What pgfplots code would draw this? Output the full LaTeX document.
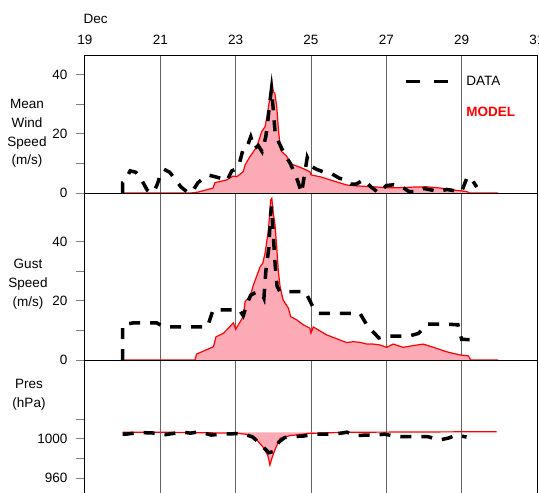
\documentclass[border=0pt]{standalone}
\usepackage{fontspec}
\setmainfont{Liberation Sans}
\usepackage{pgfplots}
\pgfplotsset{compat=1.18}
\definecolor{modelred}{RGB}{255,0,0}
\definecolor{modelfill}{RGB}{252,170,182}
\definecolor{gridgray}{RGB}{100,100,100}
\newcommand{\lbl}{\fontsize{13.5}{18.8}\selectfont}

\pgfplotsset{
  panel/.style={
    scale only axis, width=452pt, xmin=19, xmax=31,
    xtick={19,21,...,31}, xmajorgrids,
    grid style={gridgray, line width=1pt},
    axis line style={line width=1pt},
    xtick style={draw=none},
    ytick style={line width=1pt},
    ytick pos=left, tick align=outside, major tick length=9pt,
    tick label style={font=\lbl},
    yticklabel style={xshift=-5pt},
    /pgf/number format/assume math mode=true,
    anchor=north west,
  },
  model/.style={draw=modelred, line width=1.2pt, fill=modelfill},
  data/.style={black, line width=3.5pt, dash pattern=on 11pt off 10pt},
}

\begin{document}
\begin{tikzpicture}[font=\lbl]
\useasboundingbox (0,0) rectangle (539pt,-493pt);

% mean wind speed
\begin{axis}[panel, at={(85pt,-55pt)}, height=138pt,
  ymin=0, ymax=46.6, ytick={0,10,20,30,40}, yticklabels={0,,20,,40},
  xticklabel pos=top, xticklabels={19,21,23,25,27,29,31},
  xticklabel style={yshift=-2.5pt},
  legend style={draw=none, fill=none, at={(axis description cs:0.706,0.85)},
    anchor=north west, inner sep=0pt, row sep=20pt, font=\lbl,
    nodes={inner sep=0pt, anchor=base west}},
]
\addlegendimage{legend image code/.code={
  \draw[black, line width=3.5pt, dash pattern=on 14pt off 14pt] (0pt,3.5pt) -- (42pt,3.5pt);
  \path (60pt,0pt);}}
\addlegendentry{DATA}
\addlegendimage{empty legend}
\addlegendentry{\textcolor{modelred}{\textbf{MODEL}}}
\addplot[model, forget plot] coordinates {
(20.0,0)(21.8,0)(22.0,0.3)(22.4,1.7)(22.45,3.5)(22.76,4.4)(22.93,5.7)(23.03,5.5)
(23.2,7.2)(23.25,9.5)(23.38,12.3)(23.56,15.6)(23.69,20.7)(23.78,22.4)(23.84,26.4)
(23.9,31.4)(23.96,37.9)(24.0,34.2)(24.04,33.7)(24.09,29.2)(24.13,22.4)(24.18,15.6)
(24.22,14)(24.35,12.5)(24.46,10)(24.53,9.5)(24.71,8.7)(24.97,7.2)(25.0,6.1)
(25.24,5.5)(25.59,4.1)(25.95,2.7)(26.21,2.4)(26.65,2.1)(27.01,1.8)(27.36,1.8)
(27.72,2.0)(28.07,2.1)(28.42,1.7)(28.78,1.0)(29.13,0.5)(29.22,0)(29.97,0)};
\addplot[data, forget plot] coordinates {
(20.0,0)(20.0,3.5)(20.05,4)(20.2,7.5)(20.35,7)(20.5,4.5)(20.65,1)(20.75,0)
(20.85,1)(20.92,3)(21.0,6)(21.1,8)(21.25,7)(21.4,4.5)(21.55,2)(21.75,0)(21.85,0.5)
(22.0,3.5)(22.15,5)(22.3,6)(22.45,5.5)(22.6,5)(22.7,4)(22.8,5)(22.9,7.5)(23.0,8)
(23.1,10)(23.2,15)(23.3,15.5)(23.4,19)(23.5,15)(23.6,16)(23.7,14)(23.8,19)
(23.85,24)(23.9,30)(23.95,35)(24.0,28)(24.05,20)(24.15,17)(24.3,13)(24.45,10)
(24.55,7)(24.65,4)(24.75,0)(24.8,4)(24.85,8)(24.9,12)(25.0,9)(25.15,8)(25.35,7)
(25.55,6.5)(25.75,5)(25.9,4.5)(26.05,3)(26.2,3)(26.4,4.5)(26.6,2)(26.8,0)
(27.0,2.5)(27.2,2.8)(27.4,2.2)(27.6,0.5)(27.8,0.5)(28.0,1.5)(28.2,1.0)(28.4,0.5)
(28.6,1.2)(28.8,0.8)(29.0,0.5)(29.15,5.5)(29.3,4)(29.4,2)};
\end{axis}

% gust speed
\begin{axis}[panel, at={(85pt,-193pt)}, height=167pt,
  ymin=0, ymax=56.6, ytick={0,10,20,30,40}, yticklabels={0,,20,,40},
  xticklabels={},
]
\addplot[model] coordinates {
(20.0,0)(21.92,0)(21.96,2)(22.41,4.5)(22.48,7.9)(22.67,9)(22.8,10.7)(22.94,12.6)
(23.0,10.4)(23.07,11.9)(23.2,14.7)(23.25,19.8)(23.38,21.5)(23.47,25.4)(23.65,31.6)
(23.72,32.8)(23.78,36.2)(23.87,44)(23.93,54.2)(23.96,54.8)(24.0,49.7)(24.04,46.4)
(24.09,38.4)(24.13,30.5)(24.18,24.8)(24.26,20.3)(24.4,17.6)(24.46,14.7)(24.62,13.6)
(24.8,11.9)(24.97,10.8)(25.0,9.1)(25.06,11.2)(25.42,8.5)(25.95,5.9)(26.12,6.2)
(26.3,6.0)(26.48,5.4)(26.65,5.4)(26.83,5.1)(27.01,4.3)(27.18,5.4)(27.45,4.3)
(27.72,4.9)(27.98,5.4)(28.25,4.3)(28.6,2.8)(28.96,1.7)(29.18,1.4)(29.24,0)(29.97,0)};
\addplot[data] coordinates {
(20.0,0)(20.0,12)(20.3,12.6)(20.9,12.6)(21.1,11.2)(22.25,11.2)(22.4,17)(23.1,17)
(23.2,15)(23.3,19)(23.4,22)(23.55,23)(23.7,22.5)(23.75,21)(23.8,30)(23.88,38)
(23.92,48)(23.95,52)(24.0,42)(24.05,32)(24.1,25)(24.17,23.2)(24.85,23.2)(25.05,18)
(25.2,15.8)(26.3,15.8)(26.5,11.5)(26.8,7.5)(27.0,8.1)(27.6,8.1)(27.85,9)(28.1,12.2)
(28.9,12)(29.0,7)(29.4,6.8)};
\end{axis}

% pressure
\begin{axis}[panel, at={(85pt,-360pt)}, height=137.5pt,
  ymin=940, ymax=1081, ytick={960,980,1000,1020}, yticklabels={960,,1000,},
  xticklabels={},
]
\addplot[fill=modelfill, draw=none] coordinates {
(23.0,1006.9)(23.28,1004.8)(23.56,999)(23.72,992)(23.85,983.6)(23.91,973.3)
(23.96,980)(24.04,988.7)(24.18,1000.7)(24.44,1003.4)(24.97,1005.8)(25.2,1006.9)};
\addplot[draw=modelred, line width=1.2pt] coordinates {
(20.0,1006.9)(21.0,1007)(22.0,1006.5)(23.0,1006)(23.28,1004.8)(23.56,999)(23.72,992)
(23.85,983.6)(23.91,973.3)(23.96,980)(24.04,988.7)(24.18,1000.7)(24.44,1003.4)
(24.97,1005.8)(25.95,1006.9)(29.93,1007.5)};
\addplot[data] coordinates {
(20.0,1005)(20.1,1005)(20.3,1006)(20.55,1006.5)(20.9,1006)(21.15,1004.5)(21.3,1005.5)
(21.6,1007)(21.8,1006)(22.05,1007.5)(22.35,1004)(22.6,1005)(23.05,1005.5)(23.3,1004)
(23.45,1002)(23.6,997)(23.75,991)(23.88,986)(24.0,987)(24.15,997)(24.3,1001.5)
(24.5,1002.5)(24.8,1003)(25.1,1005)(25.5,1005)(25.8,1006)(25.95,1007)(26.2,1003.6)
(26.5,1004)(26.65,1003.6)(26.95,1005)(27.2,1003)(27.4,1002.4)(27.75,1002.4)
(28.1,1002.4)(28.42,999)(28.65,1001)(28.86,1004)(29.13,1002)};
\end{axis}

\node[anchor=base west] at (80pt,-23pt) {Dec};
\node[align=center] at (27pt,-133.5pt) {Mean\\Wind\\Speed\\(m/s)};
\node[align=center] at (28pt,-284pt) {Gust\\Speed\\(m/s)};
\node[align=center] at (29pt,-394.5pt) {Pres\\(hPa)};
\end{tikzpicture}
\end{document}
